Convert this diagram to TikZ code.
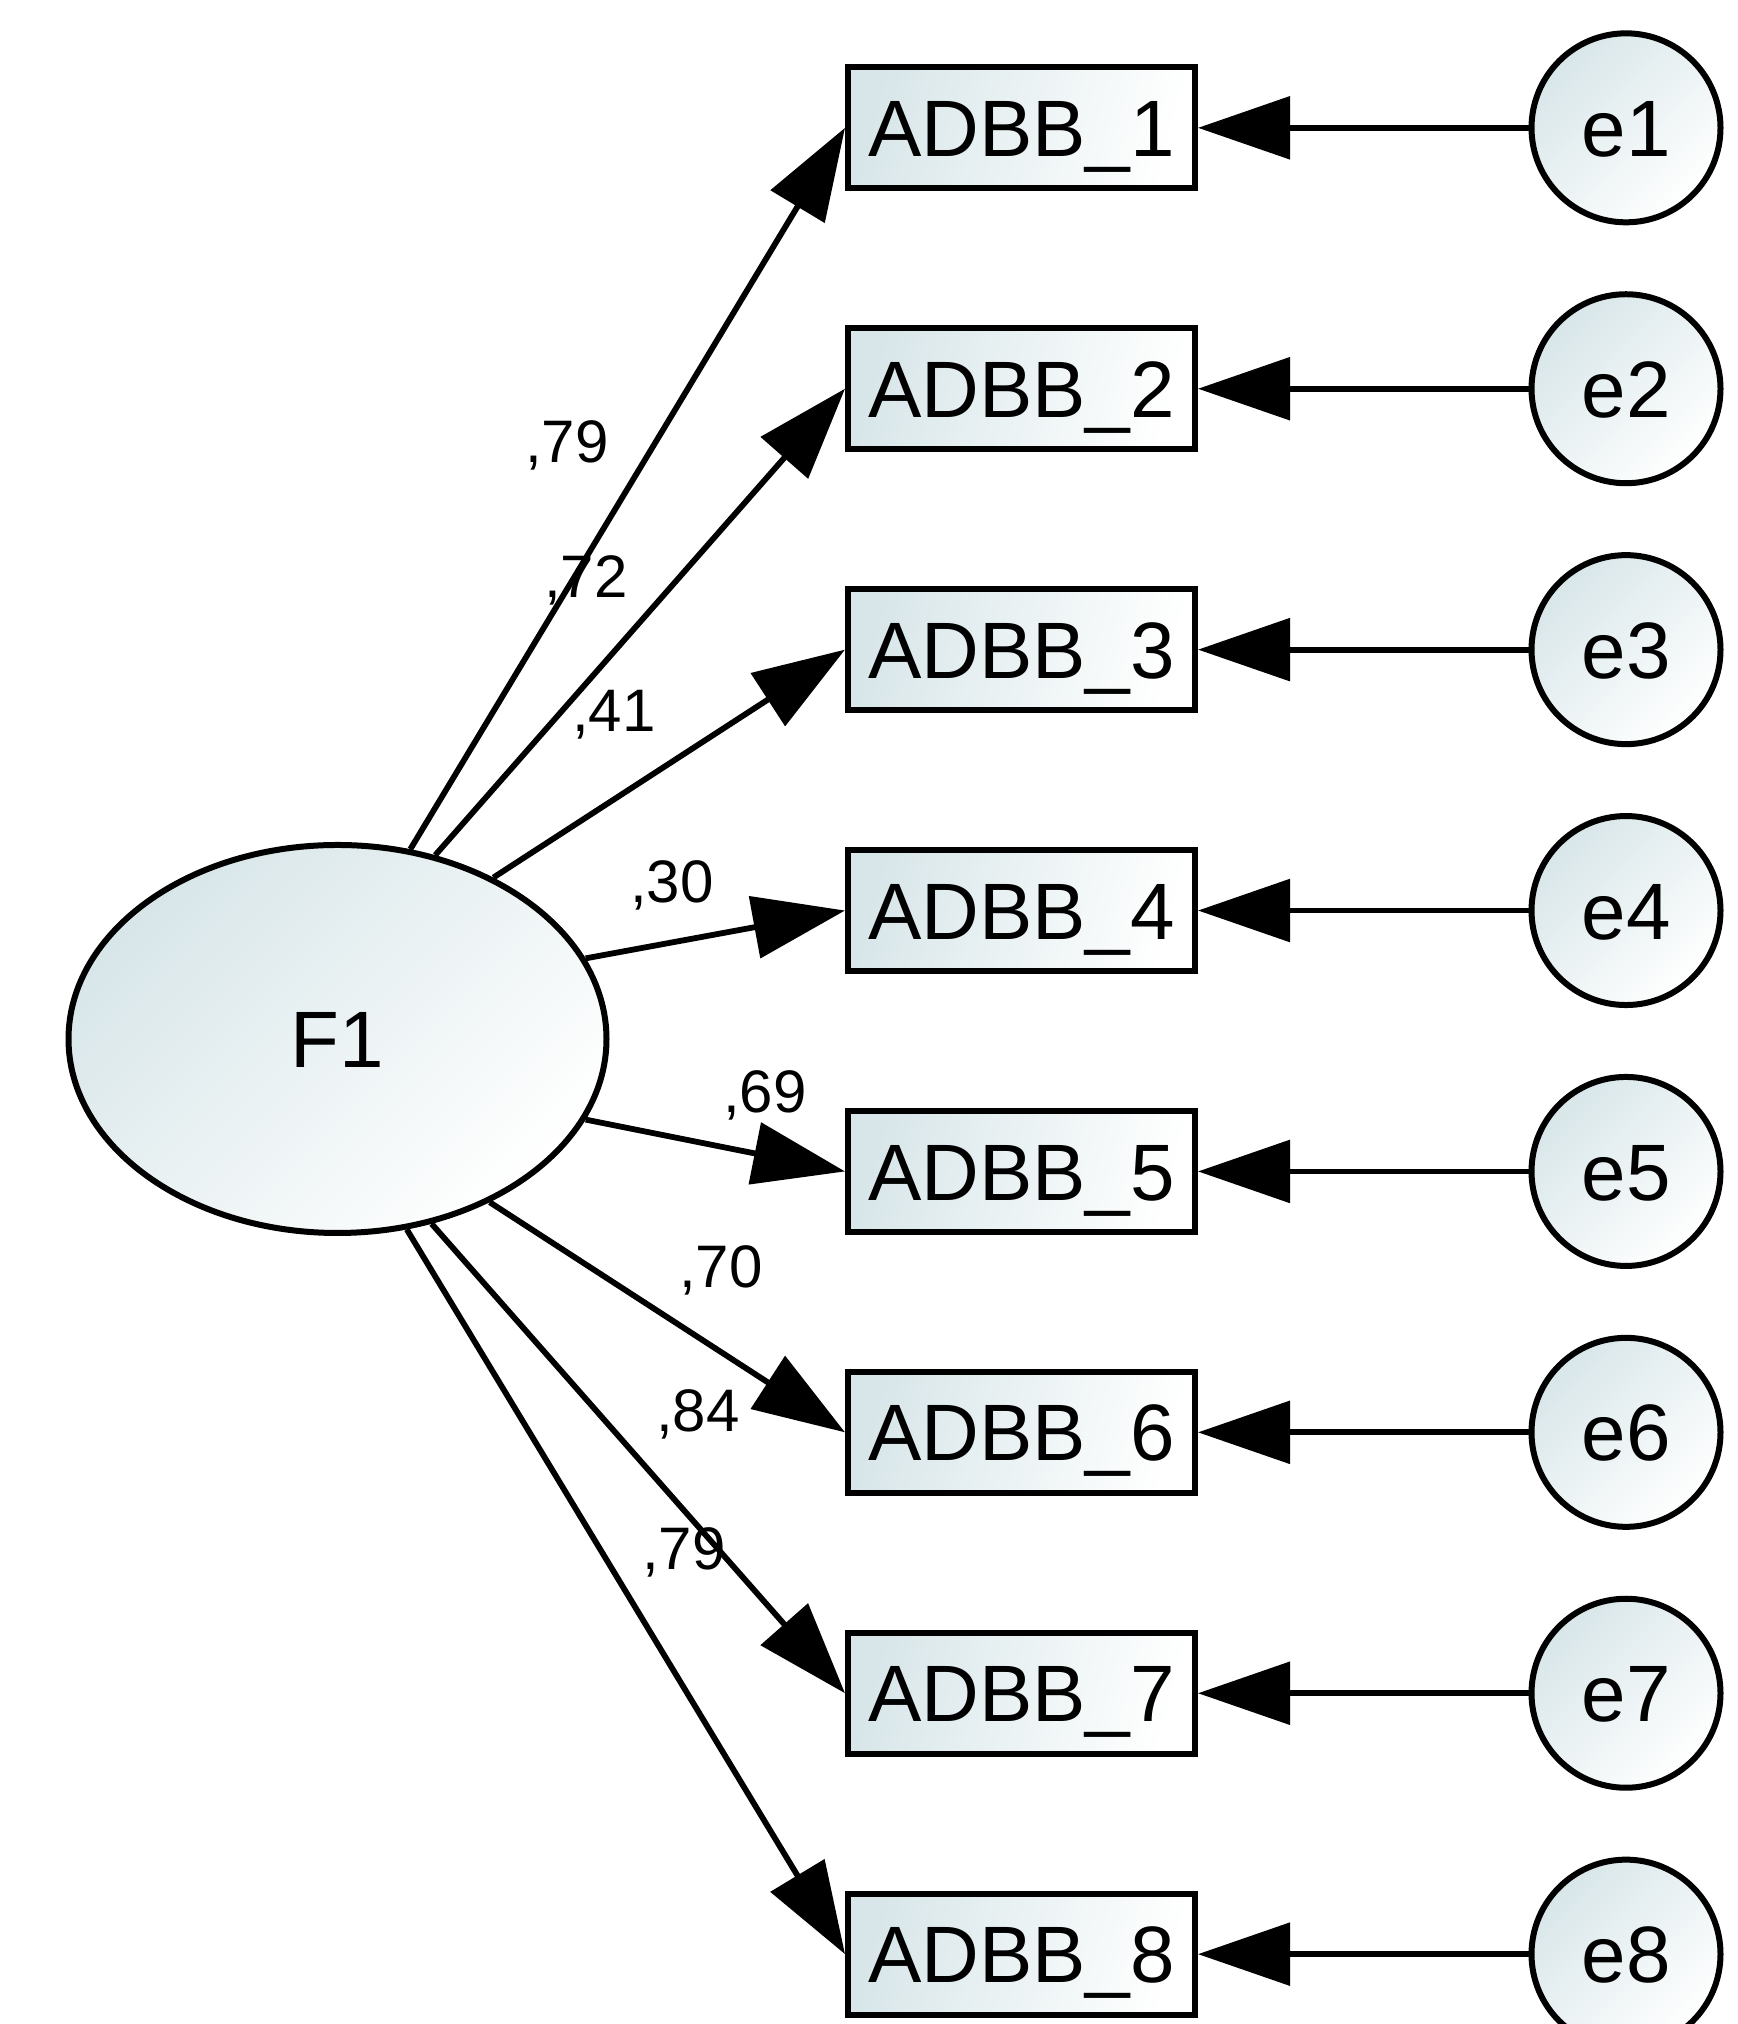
\documentclass[tikz,border=0pt]{standalone}
\usepackage{fontspec}
\setmainfont{Liberation Sans}
\usetikzlibrary{arrows.meta,shapes.geometric}
\definecolor{fillc}{RGB}{216,230,233}
\begin{document}
\begin{tikzpicture}[x=0.5pt,y=0.5pt,
  bigtext/.style={font=\fontsize{40}{44}\selectfont, text height=28.6pt, text depth=0pt},
  obs/.style={bigtext, draw=black, line width=3pt, rectangle, minimum width=173.5pt, minimum height=60.5pt, inner sep=0pt, top color=fillc, bottom color=white, shading angle=75},
  lat/.style={bigtext, draw=black, ellipse, line width=3pt, minimum width=269pt, minimum height=194pt, inner sep=0pt, top color=fillc, bottom color=white, shading angle=45},
  err/.style={bigtext, draw=black, circle, line width=3pt, minimum size=94.5pt, inner sep=0pt, top color=fillc, bottom color=white, shading angle=45},
  conn/.style={line width=2.9pt, -{Triangle[length=46pt,width=31pt]}},
  lbl/.style={font=\fontsize{30}{33}\selectfont, inner sep=0pt}]
\useasboundingbox (0,0) rectangle (1737,2024);
\fill[white] (0,0) rectangle (1737,2024);
\node[lat] (F1) at (337.5,985) {F1};
\foreach \i/\y in {1/1896.15, 2/1635.25, 3/1374.35, 4/1113.45, 5/852.55, 6/591.65, 7/330.75, 8/69.85} {
  \node[obs] (b\i) at (1021.5,\y) {ADBB\_\i};
  \node[err] (e\i) at (1626,\y) {e\i};
  \draw[conn] (e\i) -- (b\i);
}
\foreach \i/\a in {1/69.6, 2/62.35, 3/46.9, 4/18, 5/342, 6/313.1, 7/297.65, 8/290.4} {
  \draw[conn] (F1.\a) -- (b\i.west);
}
\node[lbl] (l1) at (567,1579) {,79};
\node[lbl] (l2) at (586,1444) {,72};
\node[lbl] (l3) at (614,1309) {,41};
\node[lbl] (l4) at (672,1139) {,30};
\node[lbl] (l5) at (765,929) {,69};
\node[lbl] (l6) at (721,754) {,70};
\node[lbl] (l7) at (698,610) {,84};
\node[lbl] (l8) at (684,472) {,79};
\end{tikzpicture}
\end{document}
